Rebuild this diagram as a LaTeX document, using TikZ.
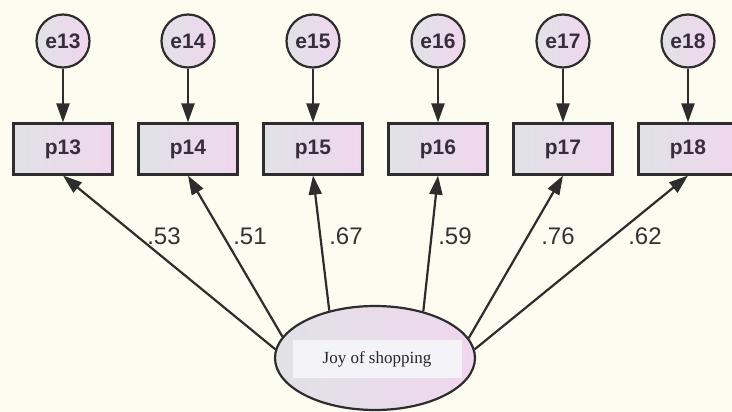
\documentclass[tikz,border=0pt]{standalone}
\usepackage{fontspec}
\setmainfont{Liberation Serif}
\newfontfamily\arialf{Liberation Sans}
\usetikzlibrary{shapes.geometric,arrows.meta}
\definecolor{bgc}{RGB}{252,252,241}
\definecolor{edgec}{RGB}{45,45,45}
\definecolor{fillL}{RGB}{224,226,230}
\definecolor{fillR}{RGB}{240,214,238}
\definecolor{txtc}{RGB}{55,45,60}
\definecolor{lblbox}{RGB}{244,244,248}
\begin{document}
\begin{tikzpicture}[x=1pt,y=-1pt,
 errc/.style={circle,draw=edgec,line width=2.2pt,minimum size=53pt,inner sep=0pt,
   left color=fillL,right color=fillR,text=txtc,
   font=\arialf\bfseries\fontsize{21}{24}\selectfont},
 obsbox/.style={rectangle,draw=edgec,line width=2.2pt,minimum width=99pt,minimum height=51pt,inner sep=0pt,
   left color=fillL,right color=fillR,text=txtc,
   font=\arialf\bfseries\fontsize{21}{24}\selectfont},
 latent/.style={ellipse,draw=edgec,line width=2.2pt,minimum width=200pt,minimum height=104pt,inner sep=0pt,
   left color=fillL,right color=fillR},
 namebox/.style={rectangle,fill=lblbox,minimum width=169pt,minimum height=38pt,inner sep=0pt,
   font=\fontsize{17}{20}\selectfont,text=black!85},
 arr/.style={-{Triangle[length=19pt,width=13pt]},line width=2.2pt,draw=edgec},
 lbl/.style={font=\arialf\fontsize{24}{27}\selectfont,text=black!80}
]
\fill[bgc] (0,0) rectangle (732,412);
\useasboundingbox (0,0) rectangle (732,412);
\clip (0,0) rectangle (732,412);

\foreach \i/\x in {13/63,14/188,15/313,16/438,17/563,18/688}{
  \node[errc] (e\i) at (\x,41) {e\i};
  \node[obsbox] (p\i) at (\x,149) {p\i};
  \draw[arr] (e\i) -- (p\i);
}

\node[latent] (J) at (375,358) {};
\node[namebox] (Jt) at (377,359) {Joy of shopping};

\draw[arr] (J.175) -- (p13.south);
\draw[arr] (J.167) -- (p14.south);
\draw[arr] (J.134) -- (p15.south);
\draw[arr] (J.44) -- (p16.south);
\draw[arr] (J.12) -- (p17.south);
\draw[arr] (J.5) -- (p18.south);

\node[lbl] (l13) at (164,236) {.53};
\node[lbl] (l14) at (250,236) {.51};
\node[lbl] (l15) at (346,236) {.67};
\node[lbl] (l16) at (455,236) {.59};
\node[lbl] (l17) at (558,236) {.76};
\node[lbl] (l18) at (645,236) {.62};
\end{tikzpicture}
\end{document}
